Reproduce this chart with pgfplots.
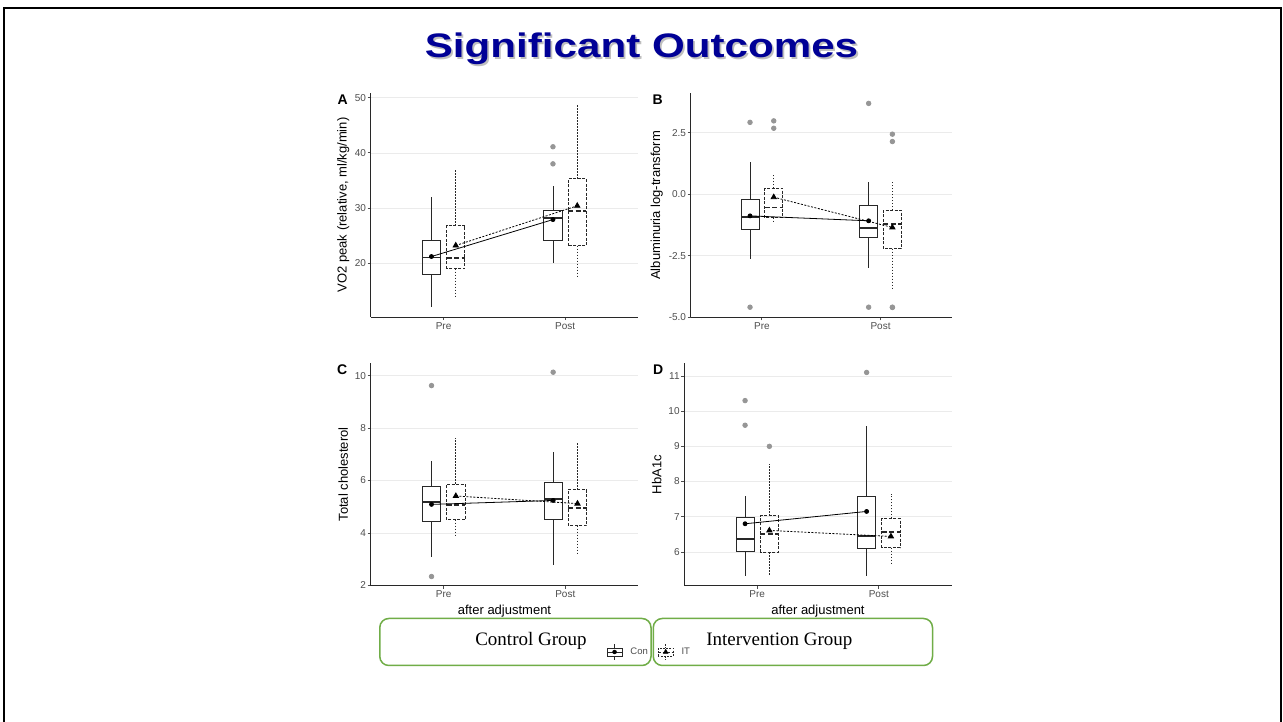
\documentclass[border=0pt]{standalone}
\usepackage{pgfplots}
\pgfplotsset{compat=1.18}
\usepgfplotslibrary{statistics}
\usepackage{graphicx}
\usepackage{fontspec}
\setmainfont{Liberation Sans}
\newfontfamily\seriffont{Liberation Serif}
\definecolor{navy}{RGB}{0,0,150}
\definecolor{grn}{RGB}{112,173,71}
\definecolor{outl}{RGB}{150,150,150}
\definecolor{tickc}{RGB}{77,77,77}
\definecolor{gridc}{RGB}{235,235,235}
\definecolor{boxc}{RGB}{40,40,40}

\pgfplotsset{
  panel/.style={
    scale only axis, anchor=south west,
    xmin=0.4, xmax=2.6,
    axis x line*=bottom, axis y line*=left,
    axis line style={boxc, line width=0.9pt},
    xtick={1,2}, xticklabels={Pre,Post},
    tick align=outside, major tick length=3pt,
    every tick/.style={tickc, line width=0.8pt},
    ymajorgrids, grid style={gridc, line width=0.6pt},
    /pgf/number format/assume math mode=true,
    tick label style={font=\fontsize{10}{12}\selectfont, text=tickc},
    yticklabel style={inner sep=1.5pt},
    xticklabel style={inner sep=2pt},
    ylabel style={font=\fontsize{13}{15}\selectfont, anchor=center},
    xlabel style={font=\fontsize{13}{15}\selectfont},
    clip=false,
  },
  conbox/.style={draw=boxc, line width=0.75pt, solid,
    mark=*, mark size=2.3pt, mark options={solid, fill=outl, draw=outl},
    boxplot/draw direction=y,
    boxplot/box extend=0.15, boxplot/whisker extend=0,
    boxplot/every median/.style={line width=1.9pt}},
  itbox/.style={draw=boxc, line width=0.75pt,
    mark=*, mark size=2.3pt, mark options={solid, fill=outl, draw=outl},
    boxplot/draw direction=y,
    boxplot/box extend=0.15, boxplot/whisker extend=0,
    boxplot/every box/.style={dash pattern=on 3pt off 1.5pt},
    boxplot/every whisker/.style={dash pattern=on 1.5pt off 1.5pt},
    boxplot/every median/.style={line width=1.9pt, dash pattern=on 5pt off 2.5pt}},
}
% draw position, lw, lq, med, uq, uw, style, outliers
\newcommand{\bx}[8]{\addplot[#7, boxplot prepared={draw direction=y, draw position=#1, lower whisker=#2, lower quartile=#3, median=#4, upper quartile=#5, upper whisker=#6}] coordinates {#8};}
\newcommand{\conmean}[2]{\addplot[black, line width=0.8pt, mark=*, mark size=2pt] coordinates {(0.9,#1)(1.9,#2)};}
\newcommand{\itmean}[2]{\addplot[black, line width=0.8pt, dash pattern=on 2pt off 1.5pt, mark=triangle*, mark size=3pt, mark options={solid}] coordinates {(1.1,#1)(2.1,#2)};}

\begin{document}
\begin{tikzpicture}
\path[use as bounding box] (0,0) rectangle (1283pt,722pt);
\fill[white] (0,0) rectangle (1283pt,722pt);
\draw[black, line width=2.5pt] (4pt,0pt) -- (4pt,714.2pt) -- (1281pt,714.2pt) -- (1281pt,0pt);
% title
\node[anchor=base, text=gray!50, inner sep=0] at (643.3pt, 662.5pt) {\scalebox{1.24}[1]{\fontsize{34}{40}\selectfont\bfseries Significant Outcomes}};
\node[anchor=base, text=navy, inner sep=0] at (641.5pt, 664.3pt) {\scalebox{1.24}[1]{\fontsize{34}{40}\selectfont\bfseries Significant Outcomes}};
% group boxes
\draw[grn, line width=1.5pt, rounded corners=9pt] (379.8pt,56.5pt) rectangle (651pt,103.5pt);
\draw[grn, line width=1.5pt, rounded corners=9pt] (653.3pt,56.5pt) rectangle (932.5pt,103.5pt);
\node[anchor=base, inner sep=0, font=\seriffont\fontsize{19}{22}\selectfont] at (531pt,76pt) {Control Group};
\node[anchor=base, inner sep=0, font=\seriffont\fontsize{19}{22}\selectfont] at (779.4pt,76pt) {Intervention Group};
% panel letters
\node[anchor=base west, inner sep=0, font=\bfseries\fontsize{14}{16}\selectfont] at (337.5pt,617.5pt) {A};
\node[anchor=base west, inner sep=0, font=\bfseries\fontsize{14}{16}\selectfont] at (652.5pt,617.5pt) {B};
\node[anchor=base west, inner sep=0, font=\bfseries\fontsize{14}{16}\selectfont] at (337pt,347.5pt) {C};
\node[anchor=base west, inner sep=0, font=\bfseries\fontsize{14}{16}\selectfont] at (653pt,347.5pt) {D};

% Panel A
\begin{axis}[panel, at={(370.7pt,405pt)}, width=267.3pt, height=224pt,
  ymin=10.24, ymax=50.85, ytick={20,30,40,50}, yticklabels={20,30,40,50},
  ylabel={VO2 peak (relative, ml/kg/min)},
  ylabel style={at={(axis description cs:-0.1025,0.5)}}]
\bx{0.9}{12.0}{18.0}{21.03}{24.06}{32.0}{conbox}{}
\bx{1.1}{13.9}{19.0}{21.0}{26.8}{37.0}{itbox}{}
\bx{1.9}{20.0}{24.06}{28.2}{29.5}{34.06}{conbox}{(0,41.1)(0,38.0)}
\bx{2.1}{17.3}{23.2}{29.5}{35.3}{48.8}{itbox}{}
\conmean{21.2}{27.9}
\itmean{23.2}{30.4}
\end{axis}

% Panel B
\begin{axis}[panel, at={(690.7pt,404.7pt)}, width=261pt, height=224pt,
  ymin=-5.0, ymax=4.10, ytick={-5,-2.5,0,2.5}, yticklabels={-5.0,-2.5,0.0,2.5},
  ylabel={Albuminuria log-transform},
  ylabel style={at={(axis description cs:-0.130,0.5)}}]
\bx{0.9}{-2.63}{-1.42}{-0.93}{-0.2}{1.29}{conbox}{(0,2.92)(0,-4.59)}
\bx{1.1}{-1.18}{-0.95}{-0.54}{0.24}{0.81}{itbox}{(0,2.98)(0,2.68)}
\bx{1.9}{-2.98}{-1.75}{-1.38}{-0.45}{0.51}{conbox}{(0,3.69)(0,-4.59)}
\bx{2.1}{-3.88}{-2.21}{-1.22}{-0.65}{0.54}{itbox}{(0,2.44)(0,2.14)(0,-4.59)(0,-4.60)}
\conmean{-0.88}{-1.08}
\itmean{-0.12}{-1.35}
\end{axis}

% Panel C
\begin{axis}[panel, at={(370.7pt,136.3pt)}, width=267.6pt, height=222.4pt,
  ymin=1.99, ymax=10.47, ytick={2,4,6,8,10}, yticklabels={2,4,6,8,10},
  ylabel={Total cholesterol},
  ylabel style={at={(axis description cs:-0.1024,0.5)}},
  xlabel={after adjustment},
  xlabel style={at={(axis description cs:0.5,0)}, anchor=center, yshift=-25.3pt}]
\bx{0.9}{3.07}{4.43}{5.19}{5.79}{6.75}{conbox}{(0,9.62)(0,2.34)}
\bx{1.1}{3.92}{4.51}{5.07}{5.87}{7.61}{itbox}{}
\bx{1.9}{2.78}{4.53}{5.28}{5.92}{7.10}{conbox}{(0,10.13)}
\bx{2.1}{3.2}{4.28}{4.94}{5.65}{7.45}{itbox}{}
\conmean{5.09}{5.24}
\itmean{5.41}{5.12}
\end{axis}

% Panel D
\begin{axis}[panel, at={(684.3pt,136.3pt)}, width=267.4pt, height=222.4pt,
  ymin=5.04, ymax=11.36, ytick={6,7,8,9,10,11}, yticklabels={6,7,8,9,10,11},
  ylabel={HbA1c},
  ylabel style={at={(axis description cs:-0.103,0.5)}},
  xlabel={after adjustment},
  xlabel style={at={(axis description cs:0.5,0)}, anchor=center, yshift=-25.3pt}]
\bx{0.9}{5.32}{6.02}{6.36}{6.98}{7.59}{conbox}{(0,10.3)(0,9.6)}
\bx{1.1}{5.32}{5.99}{6.50}{7.03}{8.49}{itbox}{(0,9.0)}
\bx{1.9}{5.32}{6.10}{6.45}{7.57}{9.59}{conbox}{(0,11.1)}
\bx{2.1}{5.68}{6.12}{6.56}{6.95}{7.64}{itbox}{}
\conmean{6.80}{7.15}
\itmean{6.61}{6.44}
\end{axis}

% Legend
\begin{axis}[hide axis, scale only axis, width=4pt, height=4pt, at={(606.5pt,70pt)}, anchor=south west,
  xmin=0, xmax=1, ymin=0, ymax=1,
  legend style={draw=none, fill=none, inner sep=0pt, at={(axis description cs:0,0)}, anchor=west,
    font=\fontsize{9.5}{10}\selectfont, text=tickc, legend columns=2,
    /tikz/every odd column/.append style={column sep=6pt},
    /tikz/every even column/.append style={column sep=8pt}}]
\addlegendimage{legend image code/.code={
  \draw[boxc, line width=0.7pt] (7.5pt,-8pt)--(7.5pt,-4pt) (7.5pt,4pt)--(7.5pt,8pt);
  \draw[boxc, line width=0.7pt] (0pt,-4pt) rectangle (15pt,4pt);
  \draw[boxc, line width=0.7pt] (0pt,0pt)--(15pt,0pt);
  \fill[black] (7.5pt,0pt) circle (2pt);}}
\addlegendentry{Con}
\addlegendimage{legend image code/.code={
  \draw[boxc, line width=0.7pt, dash pattern=on 1.2pt off 1.2pt] (7.5pt,-8pt)--(7.5pt,-4pt) (7.5pt,4pt)--(7.5pt,8pt);
  \draw[boxc, line width=0.7pt, dash pattern=on 2pt off 1.2pt] (0pt,-4pt) rectangle (15pt,4pt);
  \draw[boxc, line width=0.7pt, dash pattern=on 3pt off 1.5pt] (0pt,0pt)--(15pt,0pt);
  \fill[black] (5.1pt,-1.4pt)--(9.9pt,-1.4pt)--(7.5pt,2.8pt)--cycle;}}
\addlegendentry{IT}
\end{axis}
\end{tikzpicture}
\end{document}
